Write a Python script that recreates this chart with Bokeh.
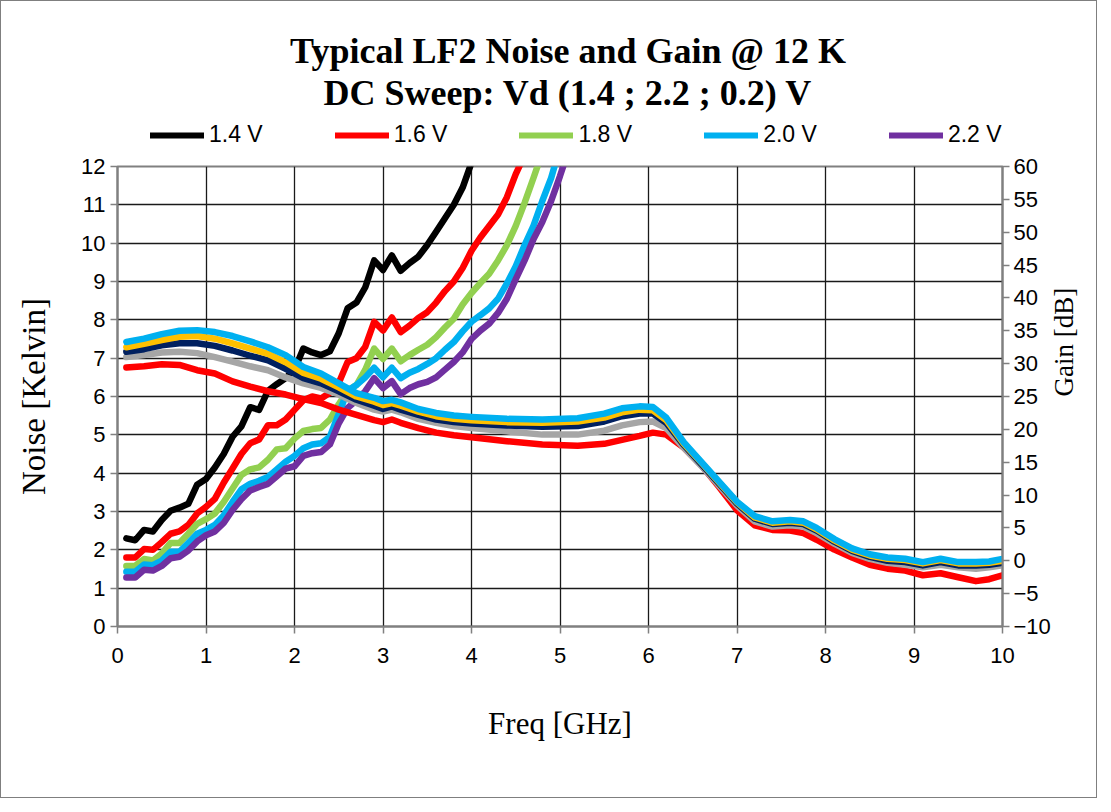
import math
from bokeh.plotting import figure
from bokeh.layouts import column
from bokeh.models import Range1d, LinearAxis, Legend, LegendItem, Label, FixedTicker
from bokeh.embed import file_html
from bokeh.resources import INLINE

# ---------------- data ----------------
legend_labels = ["1.4 V", "1.6 V", "1.8 V", "2.0 V", "2.2 V"]
noise_colors = ["#000000", "#FF0000", "#92D050", "#00B0F0", "#7030A0"]

f_n14 = [0.1,0.2,0.3,0.4,0.5,0.6,0.7,0.8,0.9,1.0,1.1,1.2,1.3,1.4,1.5,1.6,1.7,1.8,1.9,2.0,
         2.1,2.2,2.3,2.4,2.5,2.6,2.7,2.8,2.9,3.0,3.1,3.2,3.3,3.4,3.5,3.6,3.7,3.8,3.9,4.0]
n14 = [2.30,2.25,2.52,2.48,2.78,3.02,3.10,3.20,3.70,3.85,4.15,4.50,4.95,5.22,5.72,5.65,6.15,6.32,6.48,6.70,
       7.25,7.15,7.08,7.18,7.65,8.30,8.45,8.85,9.55,9.30,9.68,9.28,9.48,9.65,9.95,10.30,10.65,11.00,11.45,12.10]

f_n16 = [0.1,0.2,0.3,0.4,0.5,0.6,0.7,0.8,0.9,1.0,1.1,1.2,1.3,1.4,1.5,1.6,1.7,1.8,1.9,2.0,
         2.1,2.2,2.3,2.4,2.5,2.6,2.7,2.8,2.9,3.0,3.1,3.2,3.3,3.4,3.5,3.6,3.7,3.8,3.9,4.0,
         4.1,4.2,4.3,4.4,4.5,4.56]
n16 = [1.80,1.80,2.02,2.00,2.20,2.42,2.48,2.65,2.95,3.12,3.33,3.75,4.12,4.50,4.78,4.88,5.25,5.25,5.40,5.65,
       5.90,6.00,5.95,6.10,6.35,6.90,7.00,7.30,7.95,7.72,8.06,7.68,7.85,8.05,8.20,8.45,8.75,9.00,9.35,9.80,
       10.15,10.45,10.75,11.20,11.80,12.10]

f_n18 = [0.1,0.2,0.3,0.4,0.5,0.6,0.7,0.8,0.9,1.0,1.1,1.2,1.3,1.4,1.5,1.6,1.7,1.8,1.9,2.0,
         2.1,2.2,2.3,2.4,2.5,2.6,2.7,2.8,2.9,3.0,3.1,3.2,3.3,3.4,3.5,3.6,3.7,3.8,3.9,4.0,
         4.1,4.2,4.3,4.4,4.5,4.6,4.7,4.76]
n18 = [1.58,1.58,1.76,1.72,1.90,2.18,2.18,2.42,2.68,2.80,2.95,3.25,3.60,3.95,4.10,4.15,4.35,4.62,4.65,4.90,
       5.10,5.15,5.18,5.40,5.80,6.15,6.30,6.70,7.25,6.98,7.25,6.92,7.08,7.22,7.35,7.55,7.80,8.03,8.40,8.70,
       8.96,9.20,9.55,9.95,10.45,11.05,11.70,12.10]

f_n20 = [0.1,0.2,0.3,0.4,0.5,0.6,0.7,0.8,0.9,1.0,1.1,1.2,1.3,1.4,1.5,1.6,1.7,1.8,1.9,2.0,
         2.1,2.2,2.3,2.4,2.5,2.6,2.7,2.8,2.9,3.0,3.1,3.2,3.3,3.4,3.5,3.6,3.7,3.8,3.9,4.0,
         4.1,4.2,4.3,4.4,4.5,4.6,4.7,4.8,4.9,4.95]
n20 = [1.43,1.43,1.62,1.60,1.72,1.95,1.95,2.18,2.42,2.52,2.65,2.90,3.25,3.58,3.72,3.80,3.90,4.10,4.30,4.45,
       4.65,4.75,4.78,4.95,5.55,6.15,6.30,6.50,6.75,6.50,6.75,6.48,6.62,6.72,6.85,7.00,7.22,7.42,7.70,7.95,
       8.12,8.30,8.55,8.95,9.40,9.95,10.45,11.10,11.70,12.10]

f_n22 = [0.1,0.2,0.3,0.4,0.5,0.6,0.7,0.8,0.9,1.0,1.1,1.2,1.3,1.4,1.5,1.6,1.7,1.8,1.9,2.0,
         2.1,2.2,2.3,2.4,2.5,2.6,2.7,2.8,2.9,3.0,3.1,3.2,3.3,3.4,3.5,3.6,3.7,3.8,3.9,4.0,
         4.1,4.2,4.3,4.4,4.5,4.6,4.7,4.8,4.9,5.0,5.05]
n22 = [1.28,1.28,1.48,1.46,1.58,1.78,1.82,1.98,2.22,2.38,2.48,2.70,3.04,3.32,3.55,3.64,3.72,3.92,4.12,4.18,
       4.45,4.52,4.55,4.75,5.30,5.70,5.90,6.14,6.48,6.22,6.40,6.06,6.22,6.32,6.38,6.50,6.70,6.90,7.15,7.50,
       7.72,7.90,8.18,8.55,9.06,9.55,10.10,10.55,11.10,11.75,12.10]

f_gain = [0.1,0.3,0.5,0.7,0.9,1.1,1.3,1.5,1.7,1.9,2.1,2.3,2.5,2.7,2.9,3.0,3.1,3.2,3.4,3.6,
          3.8,4.0,4.4,4.8,5.2,5.5,5.7,5.9,6.05,6.2,6.4,6.6,6.8,7.0,7.2,7.4,7.6,7.75,7.9,8.1,
          8.3,8.5,8.7,8.9,9.1,9.3,9.5,9.7,9.85,10.0]
g14 = [29.4,29.6,29.9,29.8,29.0,28.5,27.3,26.5,25.8,25.3,24.6,24.0,23.0,22.2,21.4,21.1,21.5,21.0,20.2,19.5,
       19.1,18.8,18.2,17.7,17.5,17.8,18.4,19.0,19.5,19.2,17.2,14.5,11.2,7.7,5.4,4.7,4.6,4.2,3.2,1.7,
       0.5,-0.6,-1.2,-1.5,-2.2,-1.9,-2.5,-3.1,-2.8,-2.2]
g16 = [31.0,31.3,31.7,31.8,31.6,31.0,30.3,29.6,29.0,27.9,27.0,26.3,25.3,24.0,23.0,22.7,23.0,22.6,21.6,21.0,
       20.5,20.2,19.7,19.2,19.2,19.8,20.6,21.1,21.2,20.2,17.2,14.4,11.4,8.4,6.0,5.2,5.4,5.2,4.2,2.6,
       1.2,0.3,-0.3,-0.6,-1.0,-0.6,-1.0,-1.2,-1.0,-0.7]
g18 = [31.8,32.2,32.8,33.1,33.1,32.7,32.0,31.2,30.5,29.2,27.8,27.0,25.8,24.5,23.6,23.1,23.5,23.0,22.2,21.5,
       21.1,20.9,20.6,20.4,20.5,21.2,22.0,22.4,22.4,21.0,17.6,14.7,11.7,8.7,6.4,5.6,5.8,5.6,4.6,2.9,
       1.5,0.6,0.0,-0.2,-0.7,-0.2,-0.7,-0.7,-0.6,-0.3]
g20 = [32.5,33.0,33.6,34.1,34.2,33.8,33.1,32.3,31.5,30.2,28.6,27.7,26.4,25.0,24.2,23.7,24.0,23.6,22.7,22.0,
       21.6,21.4,21.1,21.0,21.2,21.8,22.6,23.0,22.9,21.4,17.8,14.9,11.9,8.9,6.6,5.8,6.0,5.8,4.8,3.1,
       1.7,0.8,0.3,0.1,-0.4,0.1,-0.4,-0.4,-0.3,0.0]
g22 = [33.3,33.8,34.5,35.0,35.1,34.8,34.2,33.4,32.5,31.3,29.5,28.5,27.0,25.5,24.8,24.3,24.5,24.1,23.1,22.5,
       22.1,21.9,21.6,21.5,21.7,22.4,23.2,23.5,23.4,21.8,18.0,15.0,12.0,9.0,6.8,6.0,6.2,6.0,5.0,3.3,
       1.9,1.0,0.5,0.3,-0.2,0.3,-0.2,-0.2,-0.1,0.3]
gain_colors = ["#FF0000", "#A6A6A6", "#002060", "#FFC000", "#00B0F0"]

x_ticks = list(range(0, 11))
noise_ticks = list(range(0, 13))
gain_ticks = list(range(-10, 61, 5))

title_1 = "Typical LF2 Noise and Gain @ 12 K"
title_2 = "DC Sweep: Vd (1.4 ; 2.2 ; 0.2) V"

SANS = "Liberation Sans"
SERIF = "Liberation Serif"
W = 1095
HEAD_H = 150
MAIN_H = 646
FRAME_L, FRAME_R = 116, 1002   # frame edges (the header frame is aligned to the chart frame)

# ---------------- header (titles + legend) ----------------
head = figure(width=W, height=HEAD_H, output_backend="svg", toolbar_location=None,
              x_range=Range1d(FRAME_L, FRAME_R), y_range=Range1d(HEAD_H, 0),
              x_axis_type=None, y_axis_type=None, min_border=0,
              min_border_left=FRAME_L, min_border_right=W - FRAME_R)
head.outline_line_color = None
head.grid.visible = False
head.background_fill_color = "white"
head.border_fill_color = "white"

for txt, yv in ((title_1, 49), (title_2, 91)):
    head.add_layout(Label(x=567, y=yv, text=txt, text_align="center", text_baseline="middle",
                          text_font=SERIF, text_font_style="bold", text_font_size="36px",
                          text_color="black"))

# legend swatches: line renderers whose (dummy) points lie outside the header's view
leg_items = []
for lab, col in zip(legend_labels, noise_colors):
    r = head.line([FRAME_L, FRAME_L + 1], [-500, -500], line_color=col, line_width=6,
                  line_cap="round")
    leg_items.append(LegendItem(label=lab, renderers=[r]))
leg = Legend(items=leg_items, orientation="horizontal", location=(33, 3),
             glyph_width=54, glyph_height=26, label_height=26, label_standoff=5, spacing=72,
             padding=0, margin=0, border_line_color=None, background_fill_alpha=0,
             label_text_font=SANS, label_text_font_size="23px", label_text_color="black")
head.add_layout(leg, "center")

# ---------------- main chart ----------------
p = figure(width=W, height=MAIN_H, output_backend="svg", toolbar_location=None,
           x_range=Range1d(0, 10), y_range=Range1d(0, 12),
           min_border_left=FRAME_L, min_border_right=W - FRAME_R,
           min_border_top=15, min_border_bottom=171)
p.extra_y_ranges = {"gain": Range1d(-10, 60)}
p.outline_line_color = "#808080"
p.outline_line_width = 2
p.background_fill_color = "white"
p.border_fill_color = "white"

for ax in (p.xaxis[0], p.yaxis[0]):
    ax.axis_line_color = "#808080"
    ax.axis_line_width = 2
    ax.major_tick_line_color = "#808080"
    ax.major_tick_line_width = 1.5
    ax.minor_tick_line_color = None
    ax.major_tick_in = 0
    ax.major_tick_out = 7
    ax.major_label_text_font = SANS
    ax.major_label_text_font_size = "22px"
    ax.major_label_text_color = "black"
    ax.axis_label_text_font = SERIF
    ax.axis_label_text_font_style = "normal"
    ax.axis_label_text_color = "black"

p.xaxis[0].ticker = FixedTicker(ticks=x_ticks)
p.yaxis[0].ticker = FixedTicker(ticks=noise_ticks)
p.xaxis[0].axis_label = "Freq [GHz]"
p.yaxis[0].axis_label = "Noise [Kelvin]"
p.xaxis[0].axis_label_text_font_size = "31px"
p.yaxis[0].axis_label_text_font_size = "33px"
p.xaxis[0].major_label_standoff = 14
p.xaxis[0].axis_label_standoff = 40
p.yaxis[0].major_label_standoff = 5
p.yaxis[0].axis_label_standoff = 26

rax = LinearAxis(y_range_name="gain", ticker=FixedTicker(ticks=gain_ticks))
rax.axis_line_color = "#808080"
rax.axis_line_width = 2
rax.major_tick_line_color = "#808080"
rax.major_tick_line_width = 1.5
rax.minor_tick_line_color = None
rax.major_tick_in = 0
rax.major_tick_out = 7
rax.major_label_text_font = SANS
rax.major_label_text_font_size = "22px"
rax.major_label_text_color = "black"
rax.major_label_standoff = 4
rax.axis_label = "Gain [dB]"
rax.axis_label_text_font = SERIF
rax.axis_label_text_font_style = "normal"
rax.axis_label_text_font_size = "27px"
rax.axis_label_text_color = "black"
rax.axis_label_standoff = 10
if "axis_label_orientation" in rax.properties():
    rax.axis_label_orientation = math.pi / 2
p.add_layout(rax, "right")

p.xgrid.ticker = FixedTicker(ticks=x_ticks)
p.ygrid.ticker = FixedTicker(ticks=noise_ticks)
for g in (p.xgrid[0], p.ygrid[0]):
    g.grid_line_color = "#1a1a1a"
    g.grid_line_width = 1.3

noise_f = [f_n14, f_n16, f_n18, f_n20, f_n22]
noise_v = [n14, n16, n18, n20, n22]
for col, fx, ny in zip(noise_colors, noise_f, noise_v):
    p.line(fx, ny, line_color=col, line_width=6.5, line_join="round", line_cap="round")

for col, gy in zip(gain_colors, [g14, g16, g18, g20, g22]):
    p.line(f_gain, gy, y_range_name="gain", line_color=col, line_width=6.5,
           line_join="round", line_cap="round")

layout = column(head, p, spacing=0, styles={"border": "1.5px solid #7f7f7f"})
open("out.html", "w").write(file_html(layout, INLINE))
